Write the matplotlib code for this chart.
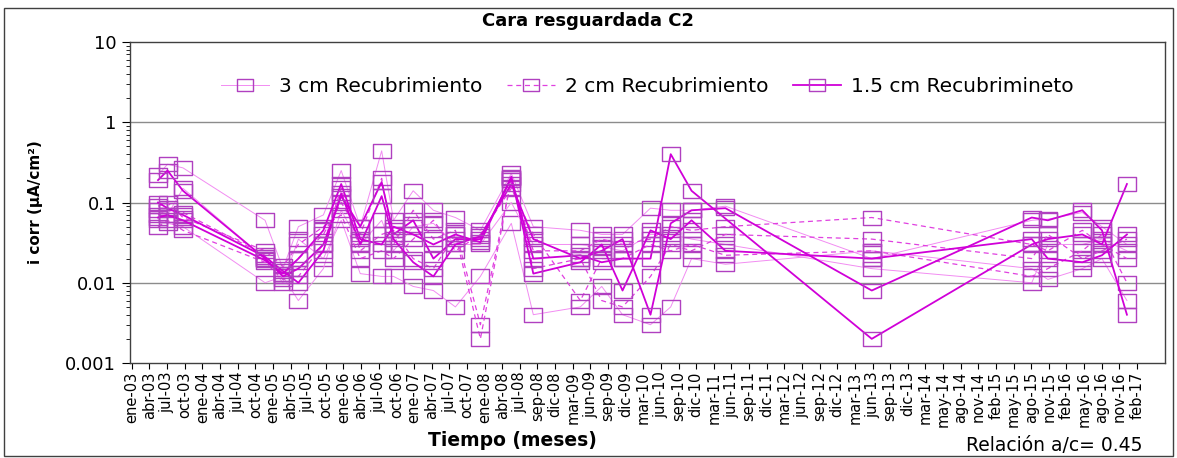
import numpy as np
import matplotlib
matplotlib.use('Agg')
import matplotlib.pyplot as plt
from matplotlib.ticker import FixedLocator, LogLocator, NullFormatter
from matplotlib.patches import Rectangle
from matplotlib.path import Path

plt.rcParams['font.family'] = ['DejaVu Sans']

# fechas de medida, en meses contados desde ene-03
meses = [4.4, 6.0, 8.6, 22.4, 25.4, 28.0, 32.2, 35.2, 38.4, 42.0,
         44.0, 47.3, 50.7, 54.4, 58.6, 63.8, 67.5, 75.4, 79.0, 82.5,
         87.2, 90.6, 94.1, 99.8, 124.4, 151.3, 154.0, 159.8, 163.1, 167.3]

# etiquetas del eje de tiempo
etiquetas = ['ene-03', 'abr-03', 'jul-03', 'oct-03', 'ene-04', 'abr-04', 'jul-04', 'oct-04',
             'ene-05', 'abr-05', 'jul-05', 'oct-05', 'ene-06', 'abr-06', 'jul-06', 'oct-06',
             'ene-07', 'abr-07', 'jul-07', 'oct-07', 'ene-08', 'abr-08', 'jul-08', 'sep-08',
             'dic-08', 'mar-09', 'jun-09', 'sep-09', 'dic-09', 'mar-10', 'jun-10', 'sep-10',
             'dic-10', 'mar-11', 'jun-11', 'sep-11', 'dic-11', 'mar-12', 'jun-12', 'sep-12',
             'dic-12', 'mar-13', 'jun-13', 'sep-13', 'dic-13', 'mar-14', 'may-14', 'ago-14',
             'nov-14', 'feb-15', 'may-15', 'ago-15', 'nov-15', 'feb-16', 'may-16', 'ago-16',
             'nov-16', 'feb-17']

# i corr (uA/cm2) por probeta
rec3_a = [0.22, 0.30, 0.27, 0.060, 0.015, 0.050, 0.070, 0.25, 0.050, 0.44,
          0.060, 0.14, 0.080, 0.065, 0.045, 0.23, 0.050, 0.045, 0.040, 0.040,
          0.085, 0.080, 0.080, 0.090, 0.020, 0.060, 0.062, 0.075, 0.050, 0.030]
rec3_b = [0.080, 0.070, 0.15, 0.020, 0.010, 0.035, 0.020, 0.060, 0.013, 0.012,
          0.012, 0.009, 0.008, 0.005, 0.012, 0.055, 0.004, 0.005, 0.009, 0.004,
          0.003, 0.005, 0.020, 0.017, 0.025, 0.015, 0.011, 0.015, 0.020, 0.006]
rec3_c = [0.060, 0.055, 0.050, 0.010, 0.012, 0.006, 0.015, 0.080, 0.030, 0.060,
          0.025, 0.050, 0.055, 0.030, 0.030, 0.10, 0.030, 0.030, 0.028, 0.025,
          0.040, 0.040, 0.035, 0.030, 0.015, 0.010, 0.030, 0.030, 0.035, 0.025]

rec2_a = [0.070, 0.080, 0.075, 0.022, 0.013, 0.020, 0.040, 0.10, 0.040, 0.20,
          0.030, 0.080, 0.035, 0.045, 0.003, 0.19, 0.025, 0.025, 0.035, 0.030,
          0.035, 0.050, 0.045, 0.050, 0.065, 0.030, 0.025, 0.045, 0.030, 0.020]
rec2_b = [0.050, 0.060, 0.045, 0.018, 0.011, 0.012, 0.030, 0.15, 0.025, 0.040,
          0.045, 0.020, 0.015, 0.040, 0.002, 0.20, 0.015, 0.020, 0.006, 0.005,
          0.012, 0.030, 0.025, 0.040, 0.035, 0.020, 0.040, 0.020, 0.025, 0.035]
rec2_c = [0.090, 0.10, 0.065, 0.025, 0.016, 0.030, 0.050, 0.070, 0.020, 0.025,
          0.020, 0.035, 0.060, 0.025, 0.040, 0.15, 0.040, 0.006, 0.020, 0.020,
          0.030, 0.025, 0.030, 0.022, 0.025, 0.012, 0.015, 0.025, 0.040, 0.010]

rec15_a = [0.19, 0.25, 0.14, 0.020, 0.012, 0.015, 0.030, 0.12, 0.050, 0.18,
           0.040, 0.060, 0.020, 0.035, 0.035, 0.20, 0.020, 0.022, 0.018, 0.020,
           0.020, 0.40, 0.14, None, 0.002, 0.030, 0.035, 0.040, 0.030, 0.17]
rec15_b = [0.10, 0.085, 0.070, 0.021, 0.014, 0.010, 0.025, 0.13, 0.030, 0.12,
           0.035, 0.018, 0.012, 0.030, 0.038, 0.17, 0.035, 0.020, 0.025, 0.035,
           0.004, 0.055, 0.080, 0.085, 0.008, 0.065, 0.060, 0.080, 0.045, 0.004]
rec15_c = [0.065, 0.070, 0.060, 0.019, 0.013, 0.020, 0.045, 0.17, 0.035, 0.030,
           0.050, 0.040, 0.030, 0.040, 0.032, 0.21, 0.013, 0.018, 0.030, 0.008,
           0.045, 0.035, 0.060, 0.025, 0.020, 0.035, 0.020, 0.018, 0.022, 0.040]

grupos = [
    ('3 cm Recubrimiento', [rec3_a, rec3_b, rec3_c], '#f28cf2', '-', 0.7),
    ('2 cm Recubrimiento', [rec2_a, rec2_b, rec2_c], '#e040e0', (0, (4, 3)), 0.9),
    ('1.5 cm Recubrimineto', [rec15_a, rec15_b, rec15_c], '#d000d8', '-', 1.3),
]

# cuadro algo más ancho que alto para los marcadores
caja = Path([(-1.3, -1), (1.3, -1), (1.3, 1), (-1.3, 1), (-1.3, -1)],
            [Path.MOVETO, Path.LINETO, Path.LINETO, Path.LINETO, Path.CLOSEPOLY])

fig = plt.figure(figsize=(11.77, 4.58), dpi=100)
ax = fig.add_axes([0.1105, 0.2074, 0.8793, 0.7009])

for nombre, series, color, estilo, ancho in grupos:
    for i, vals in enumerate(series):
        x = [m for m, v in zip(meses, vals) if v is not None]
        y = [v for v in vals if v is not None]
        ax.plot(x, y, color=color, linestyle=estilo, linewidth=ancho,
                marker=caja, markersize=12.5, markerfacecolor='none',
                markeredgecolor='#b040c0', markeredgewidth=1.0,
                label=nombre if i == 0 else None)

ax.set_yscale('log')
ax.set_ylim(0.001, 10)
ax.yaxis.set_major_locator(FixedLocator([0.001, 0.01, 0.1, 1, 10]))
ax.set_yticklabels(['0.001', '0.01', '0.1', '1', '10'], fontsize=13)
ax.yaxis.set_minor_locator(LogLocator(base=10, subs=np.arange(2, 10)))
ax.yaxis.set_minor_formatter(NullFormatter())
for v in [0.01, 0.1, 1]:
    ax.axhline(v, color='#8c8c8c', linewidth=1.0, zorder=0)

pos = np.linspace(0, 169, len(etiquetas))
ax.set_xlim(-0.3, 173.7)
ax.set_xticks(pos)
ax.set_xticklabels(etiquetas, rotation=90, fontsize=10.5)
ax.tick_params(axis='x', length=4, width=0.8, pad=2)
ax.tick_params(axis='y', which='major', length=6, width=0.8, pad=4)
ax.tick_params(axis='y', which='minor', length=3, width=0.6)

for s in ax.spines.values():
    s.set_color('#404040')
    s.set_linewidth(1.0)

ax.set_ylabel('i corr (µA/cm²)', fontsize=11, fontweight='bold')
ax.yaxis.set_label_coords(-0.084, 0.5)
ax.set_xlabel('Tiempo (meses)', fontsize=13.5, fontweight='bold')
ax.xaxis.set_label_coords(0.369, -0.212)

fig.text(0.5, 0.955, 'Cara resguardada C2', ha='center', va='center',
         fontsize=13, fontweight='bold')
fig.text(0.896, 0.028, 'Relación a/c= 0.45', ha='center', va='center', fontsize=13.5)

ax.legend(loc='center', bbox_to_anchor=(0.5, 0.86), ncol=3, frameon=False,
          fontsize=14.5, handlelength=2.4, columnspacing=1.2, handletextpad=0.5,
          markerscale=0.9)

fig.add_artist(Rectangle((0.003, 0.004), 0.994, 0.978, transform=fig.transFigure,
                         fill=False, edgecolor='#404040', linewidth=1.0))

fig.savefig('out.png', dpi=100)
